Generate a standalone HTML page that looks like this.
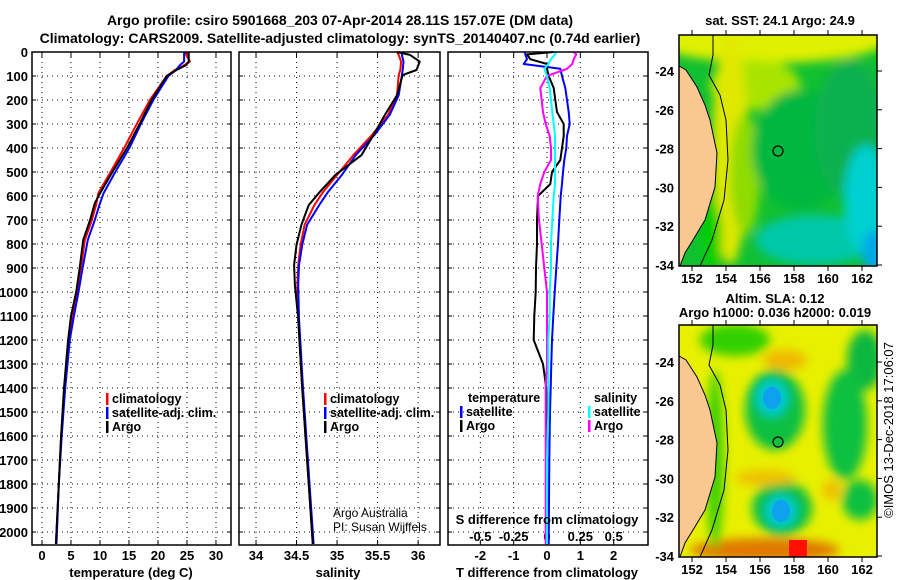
<!DOCTYPE html>
<html><head><meta charset="utf-8"><style>
html,body{margin:0;padding:0;background:#fff;}
svg{display:block;font-family:"Liberation Sans",Arial,sans-serif;}
.b{font-weight:bold;}
</style></head><body>
<svg id="root" width="900" height="580" viewBox="0 0 900 580" xmlns="http://www.w3.org/2000/svg">
<defs>
<filter id="blur" x="-50%" y="-50%" width="200%" height="200%"><feGaussianBlur stdDeviation="5"/></filter>
<clipPath id="clip1"><rect x="679" y="35" width="198" height="231"/></clipPath>
<clipPath id="clip2"><rect x="679" y="325" width="198" height="232"/></clipPath>
</defs>
<text x="340" y="25" text-anchor="middle" class="b" font-size="14">Argo profile: csiro 5901668_203 07-Apr-2014 28.11S 157.07E (DM data)</text>
<text x="340" y="43" text-anchor="middle" class="b" font-size="14">Climatology: CARS2009. Satellite-adjusted climatology: synTS_20140407.nc (0.74d earlier)</text>
<g id="plots"></g>
<g id="maps">
 <g clip-path="url(#clip1)">
  <rect x="679" y="35" width="198" height="231" fill="#10c030"/>
  <g filter="url(#blur)">
   <ellipse cx="770" cy="38" rx="120" ry="25" fill="#e0f000"/>
   <ellipse cx="755" cy="85" rx="45" ry="25" fill="#a8e400"/>
   <ellipse cx="730" cy="150" rx="18" ry="115" fill="#e0e800"/>
   <ellipse cx="745" cy="175" rx="15" ry="60" fill="#90dc00"/>
   <ellipse cx="800" cy="150" rx="48" ry="60" fill="#00b840"/>
   <ellipse cx="850" cy="130" rx="35" ry="70" fill="#10b050"/>
   <ellipse cx="815" cy="240" rx="60" ry="25" fill="#00c8a8"/>
   <ellipse cx="866" cy="200" rx="22" ry="55" fill="#00d0d0"/>
   <ellipse cx="874" cy="252" rx="12" ry="22" fill="#00a8e8"/>
   <ellipse cx="712" cy="235" rx="10" ry="35" fill="#00d000"/>
  </g>
 </g>
 <g clip-path="url(#clip2)">
  <rect x="679" y="325" width="198" height="232" fill="#e8f000"/>
  <g filter="url(#blur)">
   <ellipse cx="735" cy="340" rx="35" ry="16" fill="#30d000"/>
   <ellipse cx="865" cy="360" rx="18" ry="30" fill="#10b840"/>
   <ellipse cx="775" cy="410" rx="30" ry="40" fill="#10c040"/>
   <ellipse cx="845" cy="425" rx="22" ry="55" fill="#10c040"/>
   <ellipse cx="782" cy="508" rx="30" ry="27" fill="#10c040"/>
   <ellipse cx="860" cy="500" rx="18" ry="20" fill="#10c040"/>
   <ellipse cx="785" cy="360" rx="22" ry="10" fill="#f0b800"/>
   <ellipse cx="765" cy="478" rx="30" ry="8" fill="#f0c000"/>
   <ellipse cx="832" cy="490" rx="10" ry="10" fill="#f0c000"/>
   <ellipse cx="765" cy="550" rx="75" ry="12" fill="#e07800"/>
   <ellipse cx="715" cy="460" rx="9" ry="90" fill="#40d000"/>
  </g>
  <ellipse cx="772" cy="398" rx="18" ry="20" fill="#00c8d0" filter="url(#blur)"/>
  <ellipse cx="772" cy="398" rx="9" ry="11" fill="#10a0f0"/>
  <ellipse cx="781" cy="511" rx="18" ry="18" fill="#00c8d0" filter="url(#blur)"/>
  <ellipse cx="781" cy="511" rx="9" ry="11" fill="#10a0f0"/>
  <rect x="789" y="540" width="18" height="17" fill="#ff1000"/>
 </g>
 <polygon points="679,66 686,70 697,87 705,105 710,120 717,153 715,187 705,220 693,240 685,253 680,266 679,266" fill="#f8c890" stroke="#000" stroke-width="1"/>
 <polyline points="713,35 713,55 709,75 720,95 726,120 728,160 724,200 712,240 700,266" fill="none" stroke="#000" stroke-width="1"/>
 <circle cx="778" cy="151" r="5" fill="none" stroke="#000" stroke-width="1.2"/>
 <polygon points="679,356 686,360 697,377 705,395 710,410 717,443 715,477 705,510 693,530 685,543 680,557 679,557" fill="#f8c890" stroke="#000" stroke-width="1"/>
 <polyline points="713,325 713,345 709,365 720,385 726,410 728,450 724,490 712,530 700,557" fill="none" stroke="#000" stroke-width="1"/>
 <circle cx="778" cy="442" r="5" fill="#10c040" stroke="#000" stroke-width="1.2"/>
 <rect x="679" y="35" width="198" height="231" fill="none" stroke="#000" stroke-width="1.5"/>
 <rect x="679" y="325" width="198" height="232" fill="none" stroke="#000" stroke-width="1.5"/>
 <text x="780" y="25" text-anchor="middle" class="b" font-size="13">sat. SST: 24.1 Argo: 24.9</text>
 <text x="775" y="303" text-anchor="middle" class="b" font-size="13">Altim. SLA: 0.12</text>
 <text x="775" y="317" text-anchor="middle" class="b" font-size="13">Argo h1000: 0.036 h2000: 0.019</text>
 <text transform="translate(893,430) rotate(-90)" text-anchor="middle" font-size="13">©IMOS 13-Dec-2018 17:06:07</text>
 <g id="mapticks"></g>
</g>
</svg>
<script>
// ---- data ----
const depthT = [0,40,54,75,100,200,297,394,506,589,630,700,783,900,1000,1100,1200,1400,1600,1800,2050];
const tempArgo = [25.3,25.3,24.9,23.2,21.5,18.9,16.9,14.8,12.0,10.0,9.1,8.3,7.1,6.5,5.9,5.0,4.5,3.8,3.3,2.9,2.4];
const tempClim = [24.6,25.5,24.6,22.9,21.5,18.6,16.4,14.3,11.7,9.7,9.4,8.6,7.4,6.7,6.1,5.3,4.7,3.9,3.3,2.9,2.4];
const tempSat  = [24.5,24.5,23.8,23.1,21.8,19.2,17.1,15.2,12.5,10.6,10.0,9.1,7.9,7.0,6.3,5.5,4.8,4.0,3.4,2.9,2.5];
const depthS = [0,12,40,75,96,180,262,346,430,512,582,638,720,804,888,971,1110,1400,1700,2050];
const salArgo = [35.74,35.90,36.02,35.98,35.81,35.74,35.59,35.45,35.30,34.98,34.79,34.65,34.56,34.50,34.47,34.48,34.52,34.57,34.63,34.70];
const salClim = [35.74,35.76,35.79,35.78,35.76,35.74,35.63,35.43,35.20,35.00,34.83,34.72,34.60,34.55,34.52,34.51,34.52,34.57,34.63,34.70];
const salSat  = [35.80,35.80,35.82,35.81,35.80,35.76,35.65,35.46,35.23,35.06,34.89,34.78,34.63,34.57,34.53,34.52,34.53,34.58,34.64,34.71];
const depthD = [0,10,30,50,70,100,150,200,250,300,350,400,450,500,550,600,700,800,900,1000,1100,1200,1300,1400,1500,1700,2050];
const dTArgo = [0.2,-0.6,-0.5,0.0,0.0,0.05,0.2,0.25,0.3,0.5,0.5,0.45,0.4,0.15,0.1,-0.27,-0.3,-0.3,-0.33,-0.34,-0.38,-0.4,-0.12,-0.02,0.0,0.0,0.0];
const dTSat  = [-0.67,-0.65,-0.6,-0.7,0.4,0.45,0.55,0.6,0.65,0.68,0.6,0.58,0.52,0.48,0.45,0.41,0.37,0.33,0.28,0.23,0.19,0.15,0.13,0.11,0.09,0.07,0.05];
const dSArgo = [0.2,0.22,0.2,0.19,0.15,0.0,-0.05,-0.04,-0.03,-0.01,0.02,0.03,0.03,-0.02,-0.05,-0.07,-0.06,-0.04,-0.02,0.0,0.0,0.0,0.0,-0.01,-0.01,-0.01,-0.01];
const dSSat  = [0.07,0.06,0.03,0.01,-0.02,0.0,0.02,0.03,0.04,0.05,0.06,0.06,0.06,0.06,0.06,0.05,0.04,0.03,0.03,0.02,0.02,0.01,0.01,0.01,0.01,0.0,0.0];
const depthTicks = [0,100,200,300,400,500,600,700,800,900,1000,1100,1200,1300,1400,1500,1600,1700,1800,1900,2000];
const tTicks = [0,5,10,15,20,25,30];
const sTicks = [34,34.5,35,35.5,36];
const dTTicks = [-2,-1,0,1,2];
const dSTicks = [-0.5,-0.25,0,0.25,0.5];
const dSTickLabels = ['-0.5','-0.25','0','0.25','0.5'];
const latTicks = [-24,-26,-28,-30,-32,-34];
const lonTicks = [152,154,156,158,160,162];

// ---- scales ----
const NS='http://www.w3.org/2000/svg';
const yTop=52, yBot=545, dMax=2054;
const yD = d => yTop + d*(yBot-yTop)/dMax;
const lin=(d0,d1,r0,r1)=>v=>r0+(v-d0)*(r1-r0)/(d1-d0);
const xT = lin(-1.72,32.59,32,231);
const xS = lin(33.79,36.27,239,440);
const xDT = lin(-2.97,3.03,448,648);
const xDS = lin(-0.7425,0.7575,448,648);
const root=document.getElementById('plots');
function mk(tag,attrs,parent){const e=document.createElementNS(NS,tag);for(const k in attrs)e.setAttribute(k,attrs[k]);(parent||root).appendChild(e);return e;}
function txt(x,y,s,size,anchor,bold,parent){const t=mk('text',{x:x,y:y,'font-size':size,'text-anchor':anchor||'middle'},parent);if(bold)t.setAttribute('font-weight','bold');t.textContent=s;return t;}

function panel(name,x0,x1,xscale,ticks,labels){
  const g=mk('g',{});
  
  
  depthTicks.forEach(d=>{const l=mk('line',{x1:x0,x2:x1,y1:yD(d),y2:yD(d),stroke:'#000','stroke-width':1,'stroke-dasharray':'1 4'},g);
    
    
    mk('line',{x1:x0,x2:x0+4,y1:yD(d),y2:yD(d),stroke:'#000'},g);mk('line',{x1:x1-4,x2:x1,y1:yD(d),y2:yD(d),stroke:'#000'},g);});
  ticks.forEach((t,i)=>{const x=xscale(t);const l=mk('line',{x1:x,x2:x,y1:yTop,y2:yBot,stroke:'#000','stroke-width':1,'stroke-dasharray':'1 4'},g);
    
    
    mk('line',{x1:x,x2:x,y1:yBot-5,y2:yBot,stroke:'#000'},g);mk('line',{x1:x,x2:x,y1:yTop,y2:yTop+5,stroke:'#000'},g);
    if(labels){const tl=txt(x,560,labels[i],13,'middle',true,g);
      
      }});
  return g;
}
function line(g,xs,ds,xscale,color,name){
  const pts=xs.map((v,i)=>xscale(v).toFixed(1)+','+yD(ds[i]).toFixed(1)).join(' ');
  const p=mk('polyline',{points:pts,fill:'none',stroke:color,'stroke-width':2,'stroke-linejoin':'round'},g);
  
  
}
function frame(g,x0,x1){const r=mk('rect',{x:x0,y:yTop,width:x1-x0,height:yBot-yTop,fill:'none',stroke:'#000','stroke-width':1.5},g);
  
  }
function legend(g,x,y,color,label){
  const b=mk('rect',{x:x,y:y-10,width:2.5,height:12,fill:color},g);
  
  
  const t=txt(x+6,y,label,12.5,'start',true,g);
  
  
}

// Panel 1
const g1=panel('temperature-panel',32,231,xT,tTicks,tTicks.map(String));
line(g1,tempClim,depthT,xT,'#ff0000','temp-climatology-line');
line(g1,tempSat,depthT,xT,'#0000ff','temp-satellite-line');
line(g1,tempArgo,depthT,xT,'#000000','temp-argo-line');
frame(g1,32,231);
depthTicks.forEach(d=>{const t=txt(28,yD(d)+5,String(d),13,'end',true,g1);
  
  });
const xt1=txt(131,577,'temperature (deg C)',13,'middle',true,g1);


legend(g1,106,403,'#ff0000','climatology');
legend(g1,106,417,'#0000ff','satellite-adj. clim.');
legend(g1,106,431,'#000000','Argo');

// Panel 2
const g2=panel('salinity-panel',239,440,xS,sTicks,sTicks.map(String));
line(g2,salClim,depthS,xS,'#ff0000','sal-climatology-line');
line(g2,salSat,depthS,xS,'#0000ff','sal-satellite-line');
line(g2,salArgo,depthS,xS,'#000000','sal-argo-line');
frame(g2,239,440);
const xt2=txt(338,577,'salinity',13,'middle',true,g2);


legend(g2,324,403,'#ff0000','climatology');
legend(g2,324,417,'#0000ff','satellite-adj. clim.');
legend(g2,324,431,'#000000','Argo');
const c1=txt(333,517,'Argo Australia',12,'start',false,g2);


const c2=txt(333,531,'PI: Susan Wijffels',12,'start',false,g2);



// Panel 3
const g3=panel('difference-panel',448,648,xDT,dTTicks,dTTicks.map(String));
dSTicks.forEach((t,i)=>{const tl=txt(xDS(t),541,dSTickLabels[i],13,'middle',true,g3);
  
  });
line(g3,dTSat,depthD,xDT,'#0000ff','dT-satellite-line');
line(g3,dTArgo,depthD,xDT,'#000000','dT-argo-line');
line(g3,dSArgo,depthD,xDS,'#ff00ff','dS-argo-line');
line(g3,dSSat,depthD,xDS,'#00ffff','dS-satellite-line');
frame(g3,448,648);
const st=txt(547,524,'S difference from climatology',13,'middle',true,g3);


const xt3=txt(547,577,'T difference from climatology',13,'middle',true,g3);


const lt=txt(468,402,'temperature',12.5,'start',true,g3);


legend(g3,460,416,'#0000ff','satellite');
legend(g3,460,430,'#000000','Argo');
const ls=txt(594,402,'salinity',12.5,'start',true,g3);


legend(g3,588,416,'#00ffff','satellite');
legend(g3,588,430,'#ff00ff','Argo');

// map ticks
const mt=document.getElementById('mapticks');
const lonX=lin(152,162,692,862);
[[35,266,71],[325,557,362]].forEach(([top,bot,y24])=>{
  const latY=lat=>y24+(-24-lat)*19.4;
  latTicks.forEach(l=>{const y=latY(l);if(y>bot+2)return;
    mk('line',{x1:877,x2:882,y1:y,y2:y,stroke:'#000'},mt);
    const t=txt(674,y+5,String(l),13,'end',true,mt);
    
    });
  lonTicks.forEach(l=>{const x=lonX(l);
    mk('line',{x1:x,x2:x,y1:top-5,y2:top,stroke:'#000'},mt);
    mk('line',{x1:x,x2:x,y1:bot,y2:bot+5,stroke:'#000'},mt);
    const t=txt(x,bot+17,String(l),13,'middle',true,mt);
    
    });
});
</script>
</body></html>
